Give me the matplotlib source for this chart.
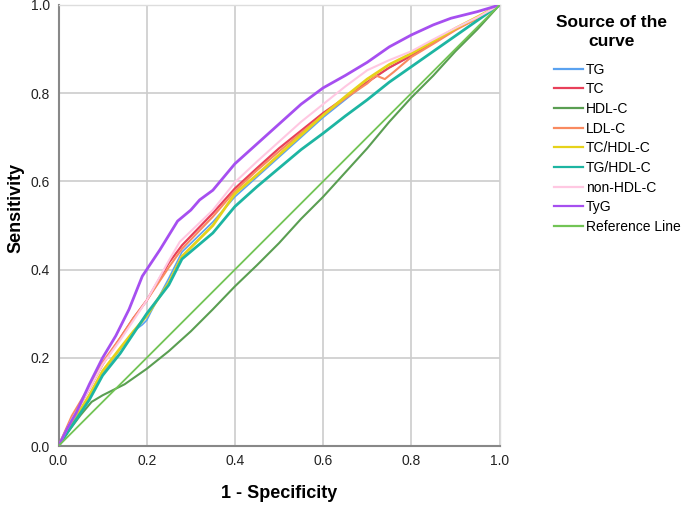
import matplotlib
matplotlib.use("Agg")
import matplotlib.pyplot as plt

plt.rcParams['font.family'] = ['Liberation Sans', 'DejaVu Sans']

# ---- data ----
tyg_x = [0, 0.02, 0.04, 0.07, 0.10, 0.13, 0.16, 0.19, 0.20, 0.23, 0.27, 0.30, 0.32, 0.35, 0.40, 0.45, 0.50, 0.55, 0.60, 0.65, 0.70, 0.75, 0.80, 0.85, 0.89, 0.95, 1.0]
tyg_y = [0, 0.04, 0.075, 0.14, 0.20, 0.25, 0.31, 0.385, 0.40, 0.445, 0.51, 0.535, 0.558, 0.58, 0.64, 0.685, 0.73, 0.775, 0.812, 0.84, 0.87, 0.905, 0.932, 0.955, 0.97, 0.985, 1.0]

tc_x = [0, 0.03, 0.07, 0.10, 0.14, 0.17, 0.20, 0.25, 0.28, 0.35, 0.40, 0.45, 0.50, 0.55, 0.60, 0.65, 0.70, 0.75, 0.80, 0.85, 0.90, 0.95, 1.0]
tc_y = [0, 0.06, 0.13, 0.185, 0.245, 0.29, 0.33, 0.415, 0.455, 0.528, 0.584, 0.63, 0.675, 0.715, 0.755, 0.79, 0.825, 0.858, 0.885, 0.915, 0.945, 0.97, 1.0]

ldl_x = [0, 0.03, 0.07, 0.10, 0.14, 0.17, 0.20, 0.25, 0.28, 0.35, 0.40, 0.45, 0.50, 0.55, 0.60, 0.65, 0.70, 0.72, 0.74, 0.76, 0.80, 0.85, 0.90, 0.95, 1.0]
ldl_y = [0, 0.068, 0.135, 0.19, 0.245, 0.29, 0.33, 0.405, 0.447, 0.52, 0.578, 0.625, 0.668, 0.71, 0.75, 0.788, 0.822, 0.84, 0.832, 0.848, 0.882, 0.912, 0.943, 0.97, 1.0]

tg_x = [0, 0.03, 0.07, 0.10, 0.14, 0.17, 0.19, 0.20, 0.21, 0.25, 0.28, 0.35, 0.40, 0.45, 0.50, 0.55, 0.60, 0.65, 0.70, 0.75, 0.80, 0.85, 0.90, 0.95, 1.0]
tg_y = [0, 0.05, 0.115, 0.165, 0.22, 0.26, 0.275, 0.285, 0.305, 0.38, 0.44, 0.508, 0.565, 0.61, 0.655, 0.7, 0.745, 0.785, 0.825, 0.858, 0.885, 0.915, 0.945, 0.972, 1.0]

tchdl_x = [0, 0.03, 0.07, 0.10, 0.14, 0.17, 0.20, 0.25, 0.28, 0.35, 0.40, 0.45, 0.50, 0.55, 0.60, 0.65, 0.70, 0.75, 0.80, 0.85, 0.90, 0.95, 1.0]
tchdl_y = [0, 0.05, 0.115, 0.17, 0.222, 0.26, 0.295, 0.37, 0.43, 0.5, 0.572, 0.615, 0.66, 0.705, 0.75, 0.792, 0.832, 0.865, 0.89, 0.918, 0.947, 0.973, 1.0]

tghdl_x = [0, 0.03, 0.07, 0.10, 0.14, 0.17, 0.20, 0.25, 0.28, 0.35, 0.40, 0.45, 0.50, 0.55, 0.60, 0.65, 0.70, 0.75, 0.80, 0.85, 0.90, 0.95, 1.0]
tghdl_y = [0, 0.045, 0.105, 0.16, 0.21, 0.255, 0.3, 0.365, 0.424, 0.483, 0.543, 0.588, 0.63, 0.672, 0.709, 0.748, 0.785, 0.825, 0.86, 0.895, 0.93, 0.965, 1.0]

nonhdl_x = [0, 0.03, 0.07, 0.10, 0.14, 0.17, 0.20, 0.25, 0.275, 0.35, 0.40, 0.45, 0.50, 0.55, 0.60, 0.65, 0.70, 0.75, 0.80, 0.85, 0.90, 0.95, 1.0]
nonhdl_y = [0, 0.06, 0.13, 0.185, 0.24, 0.285, 0.33, 0.42, 0.463, 0.535, 0.598, 0.645, 0.69, 0.735, 0.775, 0.815, 0.852, 0.875, 0.895, 0.922, 0.948, 0.972, 1.0]

hdl_x = [0, 0.02, 0.05, 0.075, 0.10, 0.15, 0.20, 0.25, 0.30, 0.35, 0.40, 0.45, 0.50, 0.55, 0.60, 0.65, 0.70, 0.75, 0.80, 0.85, 0.90, 0.95, 1.0]
hdl_y = [0, 0.03, 0.07, 0.10, 0.115, 0.14, 0.175, 0.215, 0.26, 0.31, 0.362, 0.41, 0.46, 0.515, 0.565, 0.62, 0.675, 0.735, 0.79, 0.84, 0.895, 0.945, 1.0]

ref_x = [0, 1]
ref_y = [0, 1]

ticks = [0.0, 0.2, 0.4, 0.6, 0.8, 1.0]
tick_labels = ["0.0", "0.2", "0.4", "0.6", "0.8", "1.0"]

series = [
    ("TG", tg_x, tg_y, "#5aa2f0", 1.2),
    ("TC", tc_x, tc_y, "#e8405a", 1.6),
    ("HDL-C", hdl_x, hdl_y, "#5a9e52", 1.5),
    ("LDL-C", ldl_x, ldl_y, "#f98a60", 1.5),
    ("TC/HDL-C", tchdl_x, tchdl_y, "#e6d21a", 2.0),
    ("TG/HDL-C", tghdl_x, tghdl_y, "#1db5a2", 2.0),
    ("non-HDL-C", nonhdl_x, nonhdl_y, "#ffc8e2", 1.5),
    ("TyG", tyg_x, tyg_y, "#a64ff0", 2.0),
    ("Reference Line", ref_x, ref_y, "#72c455", 1.3),
]

W, H = 685, 505
fig = plt.figure(figsize=(6.85, 5.05), dpi=100)
ax = fig.add_axes([58.5/W, 59/H, 441/W, 441/H])

for name, xs, ys, col, lw in series:
    ax.plot(xs, ys, color=col, lw=lw, label=name, solid_joinstyle='round', zorder=3)

ax.set_xlim(0, 1)
ax.set_ylim(0, 1)
ax.set_xticks(ticks)
ax.set_xticklabels(tick_labels)
ax.set_yticks(ticks)
ax.set_yticklabels(tick_labels)
ax.grid(True, color="#cccccc", lw=1.2, zorder=0)
ax.tick_params(axis="x", length=0, labelsize=10, colors="#222222", pad=6)
ax.tick_params(axis="y", length=0, labelsize=10, colors="#222222", pad=6)
for s in ["left", "bottom"]:
    ax.spines[s].set_color("#888888")
    ax.spines[s].set_linewidth(1.5)
for s in ["top", "right"]:
    ax.spines[s].set_color("#dddddd")
    ax.spines[s].set_linewidth(1.0)

ax.set_xlabel("1 - Specificity", fontsize=13, fontweight="bold", va="center")
ax.xaxis.set_label_coords(0.5, (446 - 493) / 441)
ax.set_ylabel("Sensitivity", fontsize=13, fontweight="bold")
ax.yaxis.set_label_coords(-0.078, 0.54)

fig.text(612/W, 1 - 32/H, "Source of the\ncurve", ha="center", va="center",
         fontsize=12.5, fontweight="bold", linespacing=1.3, multialignment="center")

leg = fig.legend(loc="upper left", bbox_to_anchor=(541/W, 1 - 50/H),
                 frameon=False, fontsize=10, handlelength=2.1,
                 handletextpad=0.25, labelspacing=0.41)
for line in leg.get_lines():
    line.set_linewidth(1.6)

fig.savefig("out.png", dpi=100)
